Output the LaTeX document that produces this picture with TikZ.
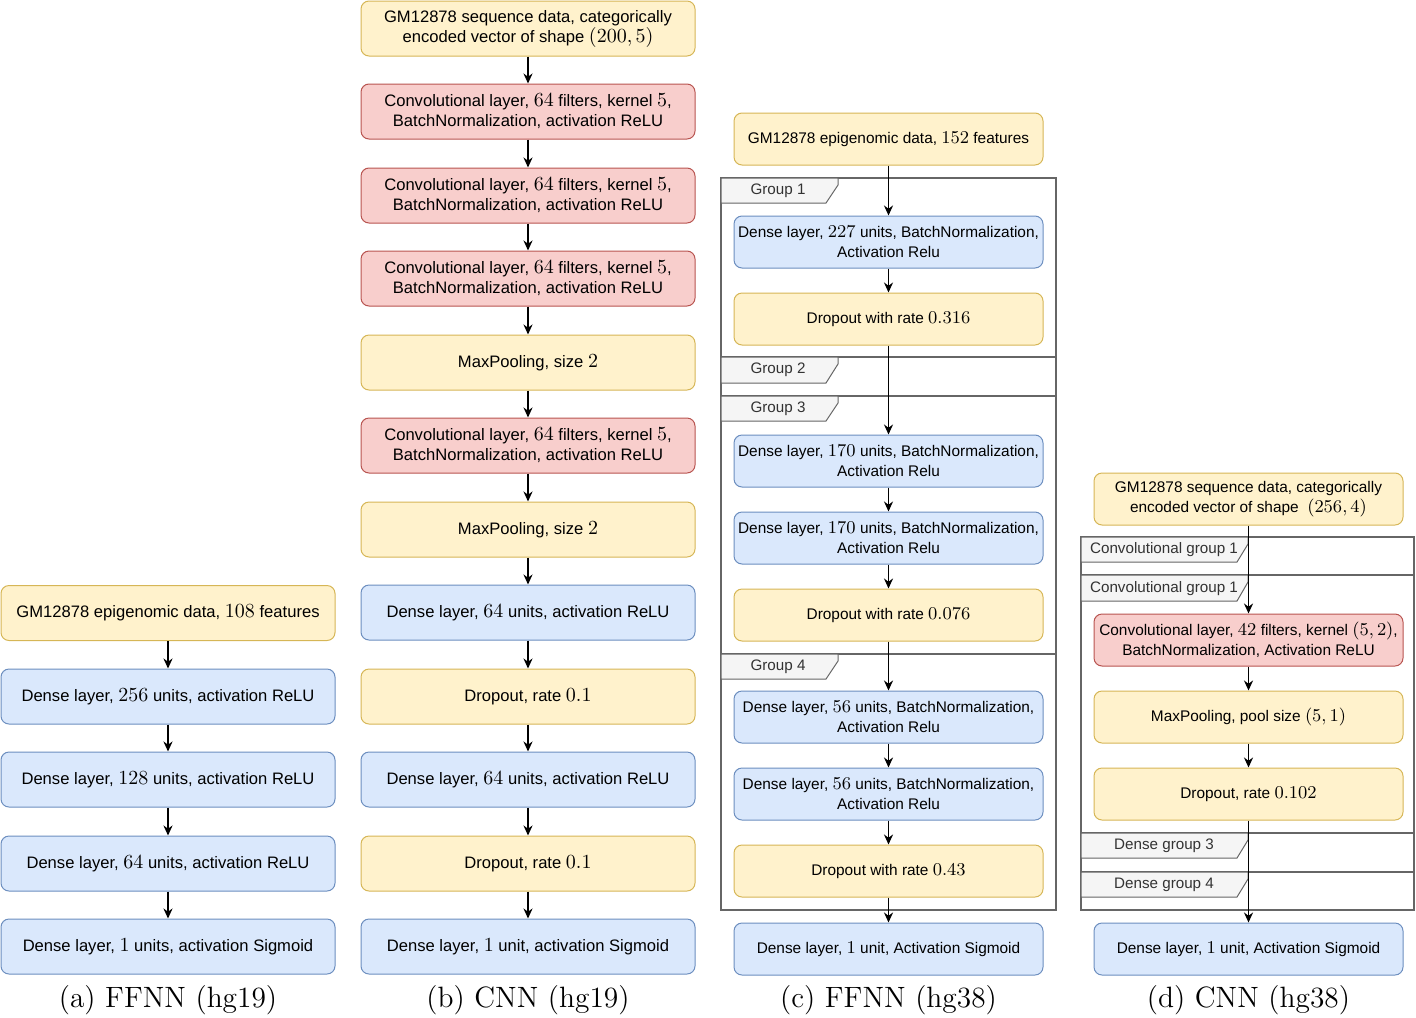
\documentclass[tikz,border=0pt]{standalone}
\usepackage{fontspec}
\setsansfont{Liberation Sans}
\usepackage{amsmath, amssymb}
\usetikzlibrary{arrows.meta}
\usetikzlibrary{calc}

\definecolor{inFill}{HTML}{FFF2CC}
\definecolor{inEdge}{HTML}{D6B656}
\definecolor{convFill}{HTML}{F8CECC}
\definecolor{convEdge}{HTML}{B85450}
\definecolor{denseFill}{HTML}{DAE8FC}
\definecolor{denseEdge}{HTML}{6C8EBF}
\definecolor{groupEdge}{HTML}{666666}
\definecolor{tabFill}{HTML}{F5F5F5}
\definecolor{tabText}{HTML}{333333}

\def\nvsize{9.5}
\newcommand{\nv}[1]{{\fontsize{\nvsize}{10}\selectfont$#1$}}

\begin{document}
\begin{tikzpicture}[x=0.5pt, y=-0.5pt, >={Stealth[length=5pt,width=4.5pt]},
        layer_style/.style={rectangle, rounded corners=4pt, line width=0.5pt, align=center,
            inner xsep=1pt, inner ysep=1pt, text=black},
        wide_style/.style={layer_style, minimum width=167pt, minimum height=27.5pt,
            font=\sffamily\fontsize{8.3}{10}\selectfont\def\nvsize{10.2}},
        narrow_style/.style={layer_style, minimum width=154.5pt, minimum height=26pt,
            font=\sffamily\fontsize{7.7}{10}\selectfont\def\nvsize{9.5}},
        input_style/.style={draw=inEdge, fill=inFill},
        conv_style/.style={draw=convEdge, fill=convFill},
        dense_style/.style={draw=denseEdge, fill=denseFill},
        group_box_style/.style={draw=groupEdge, line width=0.6pt},
        group_tab_style/.style={draw=groupEdge, fill=tabFill, line width=0.5pt},
        tab_label_style/.style={text=tabText, font=\sffamily\fontsize{7.6}{9}\selectfont},
        caption_style/.style={font=\fontsize{14.7}{16}\selectfont},
        edge_style/.style={draw=black, line width=0.85pt, ->}]

        \useasboundingbox (0,0) rectangle (1416,1017);

        % groups of (c)
        \draw [group_box_style] (721,178) rectangle (1056,357);
        \draw [group_tab_style] (721,178) -- (838,178) -- (838,185) -- (826,203) -- (721,203) -- cycle;
        \node [tab_label_style] (g1) at (778,191) {Group 1};

        \draw [group_box_style] (721,357) rectangle (1056,396);
        \draw [group_tab_style] (721,357) -- (838,357) -- (838,364) -- (826,383) -- (721,383) -- cycle;
        \node [tab_label_style] (g2) at (778,370) {Group 2};

        \draw [group_box_style] (721,396) rectangle (1056,654);
        \draw [group_tab_style] (721,396) -- (838,396) -- (838,403) -- (826,421) -- (721,421) -- cycle;
        \node [tab_label_style] (g3) at (778,409) {Group 3};

        \draw [group_box_style] (721,654) rectangle (1056,910);
        \draw [group_tab_style] (721,654) -- (838,654) -- (838,661) -- (826,679) -- (721,679) -- cycle;
        \node [tab_label_style] (g4) at (778,667) {Group 4};

        % groups of (d)
        \draw [group_box_style] (1081,537) rectangle (1414,575);
        \draw [group_tab_style] (1081,537) -- (1248,537) -- (1248,544) -- (1237,562) -- (1081,562) -- cycle;
        \node [tab_label_style] (cg1) at (1164,550) {Convolutional group 1};

        \draw [group_box_style] (1081,575) rectangle (1414,833);
        \draw [group_tab_style] (1081,575) -- (1248,575) -- (1248,582) -- (1237,601) -- (1081,601) -- cycle;
        \node [tab_label_style] (cg2) at (1164,589) {Convolutional group 1};

        \draw [group_box_style] (1081,833) rectangle (1414,872);
        \draw [group_tab_style] (1081,833) -- (1248,833) -- (1248,840) -- (1237,858) -- (1081,858) -- cycle;
        \node [tab_label_style] (dg3) at (1164,846) {Dense group 3};

        \draw [group_box_style] (1081,872) rectangle (1414,910);
        \draw [group_tab_style] (1081,872) -- (1248,872) -- (1248,879) -- (1237,897) -- (1081,897) -- cycle;
        \node [tab_label_style] (dg4) at (1164,885) {Dense group 4};

        % (a) FFNN hg19
        \node [wide_style, input_style] (a1) at (168,613) {GM12878 epigenomic data, \nv{108} features};

        \node [wide_style, dense_style] (a2) at (168,696.5) {Dense layer, \nv{256} units, activation ReLU};

        \node [wide_style, dense_style] (a3) at (168,779.5) {Dense layer, \nv{128} units, activation ReLU};

        \node [wide_style, dense_style] (a4) at (168,863.5) {Dense layer, \nv{64} units, activation ReLU};

        \node [wide_style, dense_style] (a5) at (168,946.5) {Dense layer, \nv{1} units, activation Sigmoid};

        \node [caption_style] (capa) at (168,1000) {(a) FFNN (hg19)};

        % (b) CNN hg19
        \node [wide_style, input_style] (b1) at (528,28.5) {GM12878 sequence data, categorically\\ encoded vector of shape \nv{(200, 5)}};

        \node [wide_style, conv_style] (b2) at (528,111.5) {Convolutional layer, \nv{64} filters, kernel \nv{5},\\ BatchNormalization, activation ReLU};

        \node [wide_style, conv_style] (b3) at (528,195.5) {Convolutional layer, \nv{64} filters, kernel \nv{5},\\ BatchNormalization, activation ReLU};

        \node [wide_style, conv_style] (b4) at (528,278.5) {Convolutional layer, \nv{64} filters, kernel \nv{5},\\ BatchNormalization, activation ReLU};

        \node [wide_style, input_style] (b5) at (528,362.5) {MaxPooling, size \nv{2}};

        \node [wide_style, conv_style] (b6) at (528,445.5) {Convolutional layer, \nv{64} filters, kernel \nv{5},\\ BatchNormalization, activation ReLU};

        \node [wide_style, input_style] (b7) at (528,529.5) {MaxPooling, size \nv{2}};

        \node [wide_style, dense_style] (b8) at (528,612.5) {Dense layer, \nv{64} units, activation ReLU};

        \node [wide_style, input_style] (b9) at (528,696.5) {Dropout, rate \nv{0.1}};

        \node [wide_style, dense_style] (b10) at (528,779.5) {Dense layer, \nv{64} units, activation ReLU};

        \node [wide_style, input_style] (b11) at (528,863.5) {Dropout, rate \nv{0.1}};

        \node [wide_style, dense_style] (b12) at (528,946.5) {Dense layer, \nv{1} unit, activation Sigmoid};

        \node [caption_style] (capb) at (528,1000) {(b) CNN (hg19)};

        % (c) FFNN hg38
        \node [narrow_style, input_style] (c1) at (888.5,139) {GM12878 epigenomic data, \nv{152} features};

        \node [narrow_style, dense_style] (c2) at (888.5,242) {Dense layer, \nv{227} units, BatchNormalization,\\ Activation Relu};

        \node [narrow_style, input_style] (c3) at (888.5,319) {Dropout with rate \nv{0.316}};

        \node [narrow_style, dense_style] (c4) at (888.5,461) {Dense layer, \nv{170} units, BatchNormalization,\\ Activation Relu};

        \node [narrow_style, dense_style] (c5) at (888.5,538) {Dense layer, \nv{170} units, BatchNormalization,\\ Activation Relu};

        \node [narrow_style, input_style] (c6) at (888.5,615) {Dropout with rate \nv{0.076}};

        \node [narrow_style, dense_style] (c7) at (888.5,717) {Dense layer, \nv{56} units, BatchNormalization,\\ Activation Relu};

        \node [narrow_style, dense_style] (c8) at (888.5,794) {Dense layer, \nv{56} units, BatchNormalization,\\ Activation Relu};

        \node [narrow_style, input_style] (c9) at (888.5,871) {Dropout with rate \nv{0.43}};

        \node [narrow_style, dense_style] (c10) at (888.5,949) {Dense layer, \nv{1} unit, Activation Sigmoid};

        \node [caption_style] (capc) at (888.5,1000) {(c) FFNN (hg38)};

        % (d) CNN hg38
        \node [narrow_style, input_style] (d1) at (1248.5,499) {GM12878 sequence data, categorically\\ encoded vector of shape \ \nv{(256, 4)}};

        \node [narrow_style, conv_style] (d2) at (1248.5,640) {Convolutional layer, \nv{42} filters, kernel \nv{(5, 2)},\\ BatchNormalization, Activation ReLU};

        \node [narrow_style, input_style] (d3) at (1248.5,717) {MaxPooling, pool size \nv{(5, 1)}};

        \node [narrow_style, input_style] (d4) at (1248.5,794) {Dropout, rate \nv{0.102}};

        \node [narrow_style, dense_style] (d5) at (1248.5,949) {Dense layer, \nv{1} unit, Activation Sigmoid};

        \node [caption_style] (capd) at (1248.5,1000) {(d) CNN (hg38)};

        % connectors
        \draw [edge_style] (a1) -- (a2);
        \draw [edge_style] (a2) -- (a3);
        \draw [edge_style] (a3) -- (a4);
        \draw [edge_style] (a4) -- (a5);

        \draw [edge_style] (b1) -- (b2);
        \draw [edge_style] (b2) -- (b3);
        \draw [edge_style] (b3) -- (b4);
        \draw [edge_style] (b4) -- (b5);
        \draw [edge_style] (b5) -- (b6);
        \draw [edge_style] (b6) -- (b7);
        \draw [edge_style] (b7) -- (b8);
        \draw [edge_style] (b8) -- (b9);
        \draw [edge_style] (b9) -- (b10);
        \draw [edge_style] (b10) -- (b11);
        \draw [edge_style] (b11) -- (b12);

        \draw [edge_style] (c1) -- (c2);
        \draw [edge_style] (c2) -- (c3);
        \draw [edge_style] (c3) -- (c4);
        \draw [edge_style] (c4) -- (c5);
        \draw [edge_style] (c5) -- (c6);
        \draw [edge_style] (c6) -- (c7);
        \draw [edge_style] (c7) -- (c8);
        \draw [edge_style] (c8) -- (c9);
        \draw [edge_style] (c9) -- (c10);

        \draw [edge_style] (d1) -- (d2);
        \draw [edge_style] (d2) -- (d3);
        \draw [edge_style] (d3) -- (d4);
        \draw [edge_style] (d4) -- (d5);

\end{tikzpicture}
\end{document}
